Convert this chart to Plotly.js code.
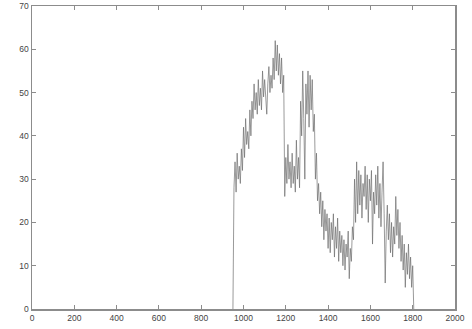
<!DOCTYPE html>
<html>
<head>
<meta charset="utf-8">
<script src="https://cdn.plot.ly/plotly-3.0.1.min.js"></script>
<style>html,body{margin:0;padding:0;background:#fff;}#chart{width:472px;height:329px;}</style>
</head>
<body>
<div id="chart"></div>
<script>
const xStart = 950;
const xStep = 5;
const values = [
0,28,34,27,36,30,33,29,37,32,
42,35,44,38,41,37,46,40,48,44,
52,46,50,45,53,47,51,46,55,49,
53,47,45,52,56,50,54,51,58,53,
62,55,61,54,59,52,58,50,54,26,
35,29,38,30,34,28,36,29,33,27,
39,30,35,28,48,40,55,44,30,52,
45,55,42,54,46,53,41,45,30,36,
25,29,22,27,19,25,16,23,18,22,
14,21,13,20,16,22,12,19,14,21,
11,18,13,17,10,16,9,15,12,18,
7,14,11,19,16,30,20,34,22,32,
24,31,21,29,26,33,23,31,20,30,
25,32,15,27,22,31,24,33,21,29,
19,27,34,22,6,18,24,16,22,13,
20,12,19,15,26,17,23,14,20,11,
17,9,15,5,13,8,15,7,12,5,
10,0
];
const xTicks = [0,200,400,600,800,1000,1200,1400,1600,1800,2000];
const yTicks = [0,10,20,30,40,50,60,70];

const trace = {
  type: 'scatter', mode: 'lines',
  x0: xStart, dx: xStep, y: values,
  line: {color: '#6e6e6e', width: 0.7},
  hoverinfo: 'skip'
};
const axisCommon = {
  showline: true, linecolor: '#8c8c8c', linewidth: 1.5, mirror: 'ticks',
  ticks: 'inside', ticklen: 4, tickcolor: '#8c8c8c', tickwidth: 1,
  showgrid: false, zeroline: false,
  tickfont: {family: 'Liberation Sans, Arial, sans-serif', size: 8.5, color: '#444'}
};
const layout = {
  width: 472, height: 329,
  margin: {l: 32, r: 17, t: 6, b: 20},
  paper_bgcolor: '#fff', plot_bgcolor: '#fff',
  showlegend: false,
  xaxis: Object.assign({}, axisCommon, {range: [0, 2000], tickvals: xTicks, ticktext: xTicks.map(String)}),
  yaxis: Object.assign({}, axisCommon, {range: [0, 70], tickvals: yTicks, ticktext: yTicks.map(String)})
};
Plotly.newPlot('chart', [trace], layout, {staticPlot: true, displayModeBar: false});
</script>
</body>
</html>
